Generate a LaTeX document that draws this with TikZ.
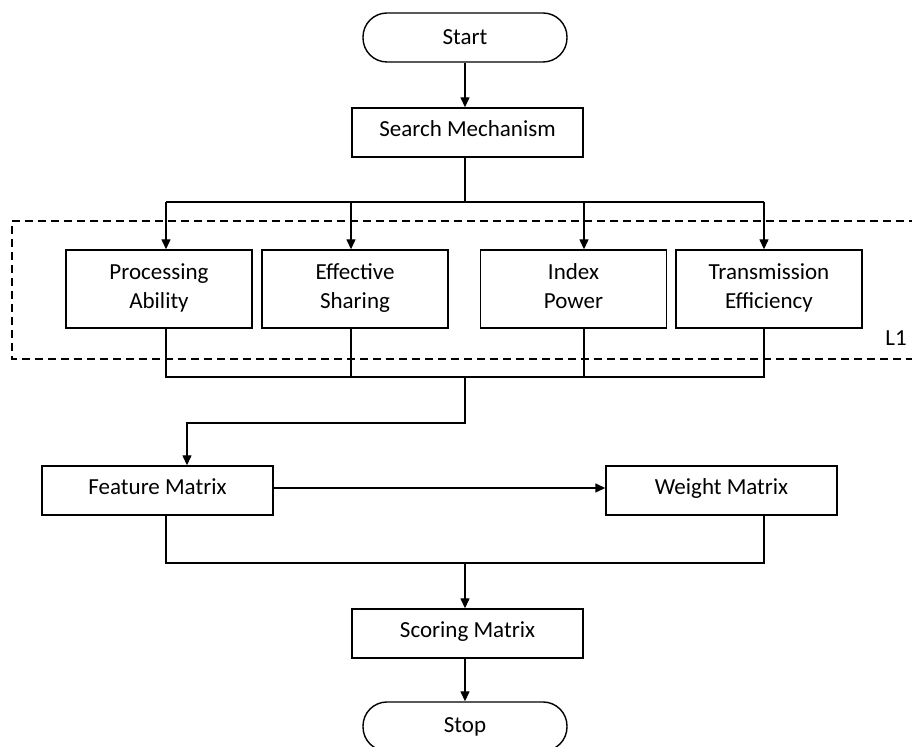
\documentclass[tikz,border=0pt]{standalone}
\usepackage{fontspec}
\setmainfont{Carlito}
\usetikzlibrary{arrows.meta}
\begin{document}
\begin{tikzpicture}[x=0.5pt,y=-0.5pt,
  base/.style={draw,line width=0.7pt,inner sep=2pt,align=center,font=\fontsize{11.5}{14.5}\selectfont},
  widebox/.style={base,minimum width=115.5pt,minimum height=24.5pt,text height=8pt,text depth=4pt},
  pbox/.style={base,minimum width=93pt,minimum height=39pt,text depth=3pt},
  term/.style={base,minimum width=102pt,minimum height=24.5pt,rounded corners=12pt},
  conn/.style={line width=0.7pt},
  arr/.style={conn,-{Triangle[length=5pt,width=4.5pt]}},
  frame/.style={line width=0.7pt,dash pattern=on 4pt off 2.5pt}]
\useasboundingbox (0,0) rectangle (912,747);
% nodes
\node[term] (start) at (465,37.5) {Start};
\node[widebox] (search) at (467.5,132.5) {Search Mechanism};
\node[pbox] (pa) at (159,289) {Processing\\Ability};
\node[pbox] (es) at (355,289) {Effective\\Sharing};
\node[pbox] (ip) at (573.5,289) {Index\\Power};
\node[pbox] (te) at (769,289) {Transmission\\Efficiency};
\node[widebox] (fm) at (157.5,490.5) {Feature Matrix};
\node[widebox] (wm) at (721.5,490.5) {Weight Matrix};
\node[widebox] (sm) at (467.5,633.5) {Scoring Matrix};
\node[term] (stop) at (465,726.5) {Stop};
\node[font=\fontsize{11.5}{14}\selectfont] (l1) at (896,338) {L1};
% dashed group frame (open to the right edge)
\draw[frame] (930,221) -- (12,221) -- (12,359) -- (930,359);
% coordinates
\coordinate (sp) at (465,0);
\coordinate (t1) at (166,202);
\coordinate (t2) at (351,202);
\coordinate (t3) at (584,202);
\coordinate (t4) at (764,202);
\coordinate (tm) at (465,202);
\coordinate (u1) at (166,377);
\coordinate (u2) at (351,377);
\coordinate (u3) at (584,377);
\coordinate (u4) at (764,377);
\coordinate (um) at (465,377);
\coordinate (k1) at (465,423);
\coordinate (k2) at (187,423);
\coordinate (v1) at (166,563);
\coordinate (v2) at (764,563);
\coordinate (vm) at (465,563);
\coordinate (h1) at (273,488);
% connectors
\draw[arr] (start.south) -- (sp |- search.north);
\draw[conn] (search.south -| tm) -- (tm);
\draw[conn] (t1) -- (t4);
\draw[arr] (t1) -- (t1 |- pa.north);
\draw[arr] (t2) -- (t2 |- es.north);
\draw[arr] (t3) -- (t3 |- ip.north);
\draw[arr] (t4) -- (t4 |- te.north);
\draw[conn] (pa.south -| u1) -- (u1) -- (u4) -- (te.south -| u4);
\draw[conn] (es.south -| u2) -- (u2);
\draw[conn] (ip.south -| u3) -- (u3);
\draw[arr] (um) -- (k1) -- (k2) -- (k2 |- fm.north);
\draw[arr] (h1 -| fm.east) -- (h1 -| wm.west);
\draw[conn] (fm.south -| v1) -- (v1) -- (v2) -- (wm.south -| v2);
\draw[arr] (vm) -- (vm |- sm.north);
\draw[arr] (sm.south -| sp) -- (sp |- stop.north);
\end{tikzpicture}
\end{document}
